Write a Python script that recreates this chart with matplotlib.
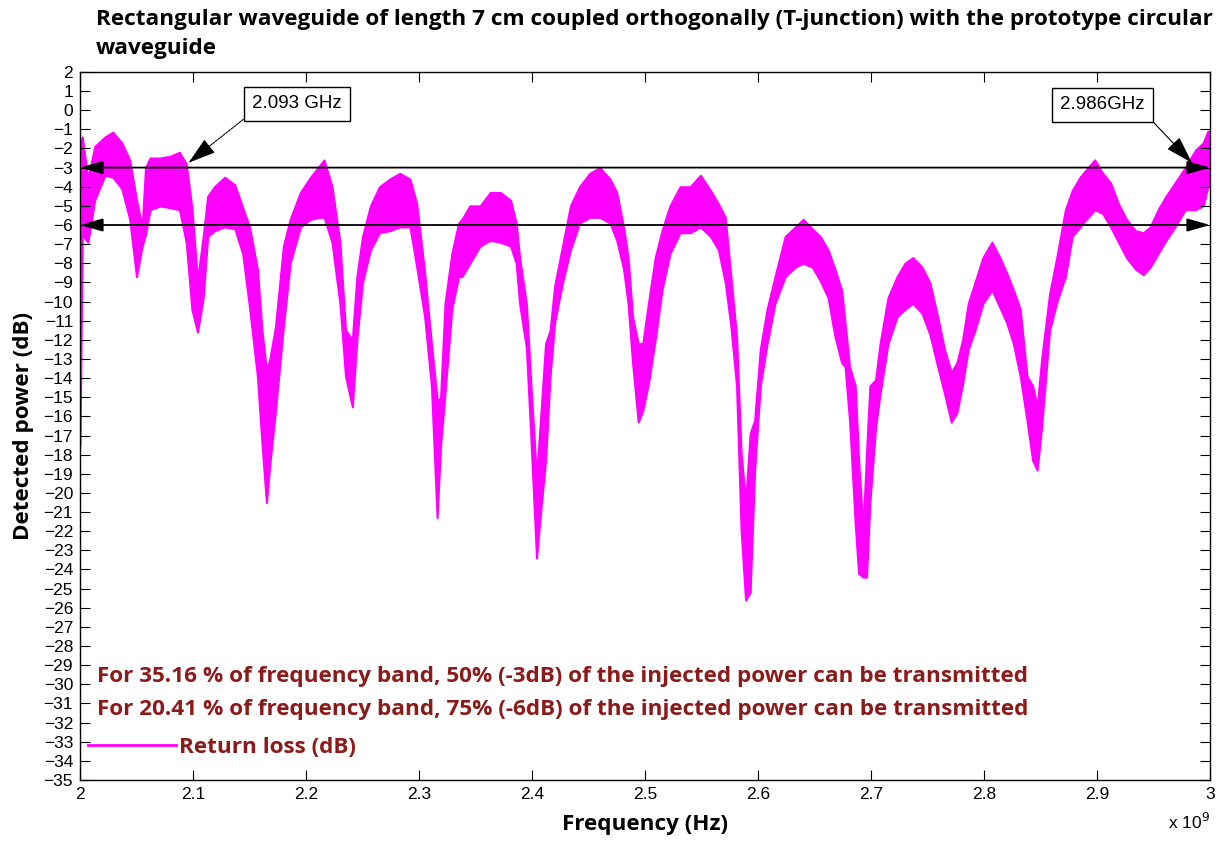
import numpy as np
import matplotlib
matplotlib.use('Agg')
import matplotlib.pyplot as plt
from matplotlib.lines import Line2D

# frequency (GHz) with upper / lower envelope of the noisy return-loss trace (dB)
freq = [2.000, 2.002, 2.007, 2.013, 2.022, 2.029, 2.037, 2.044, 2.050, 2.055,
        2.058, 2.062, 2.071, 2.080, 2.088, 2.094, 2.099, 2.104, 2.109, 2.113,
        2.119, 2.128, 2.137, 2.144, 2.150, 2.157, 2.161, 2.165, 2.168, 2.173,
        2.180, 2.186, 2.195, 2.204, 2.212, 2.216, 2.223, 2.230, 2.235, 2.241,
        2.245, 2.250, 2.257, 2.265, 2.274, 2.283, 2.292, 2.298, 2.305, 2.311,
        2.316, 2.319, 2.323, 2.329, 2.335, 2.338, 2.345, 2.354, 2.363, 2.372,
        2.381, 2.386, 2.389, 2.395, 2.399, 2.404, 2.407, 2.412, 2.416, 2.420,
        2.427, 2.434, 2.442, 2.451, 2.460, 2.469, 2.475, 2.481, 2.485, 2.489,
        2.494, 2.498, 2.503, 2.509, 2.515, 2.522, 2.531, 2.540, 2.549, 2.558,
        2.565, 2.571, 2.576, 2.581, 2.585, 2.589, 2.593, 2.597, 2.602, 2.608,
        2.615, 2.624, 2.633, 2.640, 2.648, 2.655, 2.662, 2.668, 2.674, 2.677,
        2.681, 2.686, 2.689, 2.693, 2.696, 2.699, 2.704, 2.708, 2.715, 2.723,
        2.730, 2.737, 2.745, 2.752, 2.759, 2.765, 2.771, 2.776, 2.781, 2.786,
        2.792, 2.799, 2.807, 2.814, 2.820, 2.826, 2.832, 2.838, 2.843, 2.847,
        2.851, 2.858, 2.865, 2.872, 2.878, 2.885, 2.892, 2.898, 2.905, 2.912,
        2.919, 2.926, 2.934, 2.941, 2.947, 2.954, 2.961, 2.969, 2.978, 2.987,
        2.994, 2.998, 3.000]

upper = [-1.5, -1.4, -3.6, -1.9, -1.4, -1.15, -1.7, -2.6, -4.7, -6.1,
         -3.0, -2.5, -2.5, -2.4, -2.2, -2.8, -5.1, -8.9, -6.6, -4.5,
         -4.0, -3.5, -3.9, -5.1, -6.1, -8.3, -11.5, -13.6, -13.0, -11.3,
         -7.1, -5.7, -4.3, -3.5, -2.9, -2.6, -4.0, -6.9, -11.5, -12.0,
         -8.7, -6.6, -5.0, -4.0, -3.6, -3.3, -3.6, -4.9, -8.5, -12.2,
         -15.1, -15.1, -10.1, -7.5, -5.9, -5.7, -5.0, -5.0, -4.3, -4.3,
         -4.7, -5.9, -7.7, -10.1, -14.3, -19.2, -16.6, -12.2, -11.5, -9.2,
         -7.1, -5.0, -4.0, -3.3, -3.0, -3.6, -4.3, -6.1, -7.7, -10.8,
         -12.2, -12.2, -10.1, -7.7, -6.3, -5.0, -4.0, -4.0, -3.4, -4.2,
         -4.9, -5.6, -8.7, -11.8, -17.9, -20.5, -16.9, -16.2, -12.5, -10.4,
         -8.7, -6.6, -6.1, -5.7, -6.2, -6.6, -7.3, -8.3, -9.4, -11.1,
         -13.4, -14.4, -18.3, -21.9, -17.9, -14.4, -14.1, -12.2, -9.8, -8.7,
         -8.0, -7.7, -8.2, -9.0, -10.8, -12.5, -13.7, -13.2, -12.0, -10.1,
         -9.0, -7.7, -6.9, -7.7, -8.5, -9.4, -10.4, -13.9, -14.4, -15.5,
         -13.0, -9.6, -7.5, -5.2, -4.2, -3.5, -3.0, -2.6, -3.3, -3.8,
         -4.9, -5.7, -6.3, -6.4, -6.1, -5.2, -4.5, -3.8, -3.0, -2.1,
         -1.7, -1.1, -1.1]

lower = [-17.5, -6.5, -6.9, -4.7, -3.4, -3.5, -4.1, -5.7, -8.7, -7.1,
         -6.5, -5.2, -5.0, -5.1, -5.2, -6.9, -10.4, -11.6, -9.8, -6.6,
         -6.3, -6.1, -6.2, -7.5, -10.3, -13.9, -17.4, -20.5, -18.5, -15.7,
         -11.3, -8.0, -6.1, -5.7, -5.6, -5.6, -6.9, -10.1, -13.9, -15.5,
         -12.0, -9.0, -7.3, -6.4, -6.3, -6.1, -6.1, -8.2, -10.8, -14.4,
         -21.3, -17.6, -14.8, -10.4, -8.7, -8.7, -8.0, -7.1, -6.8, -6.9,
         -7.1, -8.0, -10.1, -12.4, -17.1, -23.4, -21.4, -18.3, -13.9, -11.1,
         -9.0, -7.3, -5.9, -5.6, -5.6, -5.9, -6.8, -8.3, -10.1, -13.2,
         -16.3, -15.7, -14.3, -12.0, -9.4, -7.5, -6.4, -6.4, -6.1, -6.6,
         -7.3, -9.0, -11.3, -14.4, -21.9, -25.6, -25.2, -18.8, -14.4, -12.2,
         -10.1, -8.7, -8.2, -8.0, -8.2, -8.9, -9.8, -11.8, -13.2, -13.4,
         -16.2, -21.6, -24.2, -24.4, -24.4, -20.5, -16.6, -14.8, -12.2, -10.8,
         -10.4, -10.1, -10.6, -11.7, -13.4, -14.8, -16.3, -15.8, -14.3, -12.5,
         -11.5, -10.1, -9.4, -10.3, -11.1, -12.2, -13.9, -16.2, -18.3, -18.8,
         -16.5, -11.5, -9.9, -8.7, -6.6, -6.1, -5.6, -5.2, -5.4, -6.1,
         -6.9, -7.7, -8.3, -8.6, -8.2, -7.5, -6.8, -6.1, -5.2, -5.2,
         -5.0, -4.0, -3.8]

xticks = [2.0, 2.1, 2.2, 2.3, 2.4, 2.5, 2.6, 2.7, 2.8, 2.9, 3.0]
xticklabels = ['2', '2.1', '2.2', '2.3', '2.4', '2.5', '2.6', '2.7', '2.8', '2.9', '3']
yticks = list(range(-35, 3))

levels = [-3, -6]
marker_freqs = [2.093, 2.986]
marker_labels = ['2.093 GHz', '2.986GHz']
notes = ['For 35.16 % of frequency band, 50% (-3dB) of the injected power can be transmitted',
         'For 20.41 % of frequency band, 75% (-6dB) of the injected power can be transmitted']

darkred = '#8B1A1A'
magenta = '#FF00FF'
boldfont = 'Open Sans'
bsize = 16.2

fig = plt.figure(figsize=(12.23, 8.49), dpi=100)
ax = fig.add_axes([0.0654, 0.0813, 0.924, 0.834])

ax.fill_between(freq, lower, upper, color=magenta, linewidth=1.5, edgecolor=magenta)

ax.set_xlim(2, 3)
ax.set_ylim(-35, 2)
ax.set_xticks(xticks)
ax.set_xticklabels(xticklabels)
ax.set_yticks(yticks)
ax.tick_params(direction='in', top=True, right=True, length=7, width=0.8,
               labelsize=12.5, pad=5)
for lab in ax.get_xticklabels() + ax.get_yticklabels():
    lab.set_family('Liberation Sans')
for s in ax.spines.values():
    s.set_linewidth(1.0)

# double-headed level arrows
for lv in levels:
    ax.annotate('', xy=(2.0, lv), xytext=(3.0, lv),
                arrowprops=dict(arrowstyle='<|-|>,head_length=1.4,head_width=0.4',
                                color='black', lw=1.3, shrinkA=0, shrinkB=0))

# text arrows for band edges
ax.annotate(marker_labels[0], xy=(marker_freqs[0] + 0.003, -2.75), xytext=(2.192, 0.33),
            fontsize=13.5, family='Liberation Sans', ha='center', va='center',
            bbox=dict(boxstyle='square,pad=0.45', fc='white', ec='black', lw=1.0),
            arrowprops=dict(arrowstyle='-|>,head_length=1.3,head_width=0.4',
                            color='black', lw=0.8, ls=(0, (2, 1)), shrinkA=0, shrinkB=0,
                            relpos=(0.0, 0.0)))
ax.annotate(marker_labels[1], xy=(marker_freqs[1] - 0.002, -2.75), xytext=(2.905, 0.28),
            fontsize=13.5, family='Liberation Sans', ha='center', va='center',
            bbox=dict(boxstyle='square,pad=0.45', fc='white', ec='black', lw=1.0),
            arrowprops=dict(arrowstyle='-|>,head_length=1.3,head_width=0.4',
                            color='black', lw=0.8, shrinkA=0, shrinkB=0,
                            relpos=(1.0, 0.0)))

# notes and legend
ax.text(2.015, -29.6, notes[0], color=darkred, fontsize=bsize, fontweight='bold',
        family=boldfont, va='center')
ax.text(2.015, -31.3, notes[1], color=darkred, fontsize=bsize, fontweight='bold',
        family=boldfont, va='center')
h = Line2D([], [], color=magenta, lw=2)
leg = ax.legend([h], ['Return loss (dB)'], loc='lower left', bbox_to_anchor=(-0.011, 0.003),
                frameon=False, handlelength=3.9, handletextpad=0.15,
                prop=dict(family=boldfont, weight='bold', size=bsize))
for t in leg.get_texts():
    t.set_color(darkred)

ax.set_xlabel('Frequency (Hz)', fontsize=bsize, fontweight='bold', family=boldfont, labelpad=9)
ax.set_ylabel('Detected power (dB)', fontsize=bsize, fontweight='bold', family=boldfont, labelpad=7)
ax.text(1.0, -0.045, r'x 10$^{9}$', transform=ax.transAxes, fontsize=12.5,
        family='Liberation Sans', ha='right', va='top')

fig.text(96 / 1223, 1 - 9 / 849,
         'Rectangular waveguide of length 7 cm coupled orthogonally (T-junction) with the prototype circular\nwaveguide',
         fontsize=bsize, fontweight='bold', family=boldfont, ha='left', va='top', linespacing=1.5)

fig.savefig('out.png', dpi=100, facecolor='white')
